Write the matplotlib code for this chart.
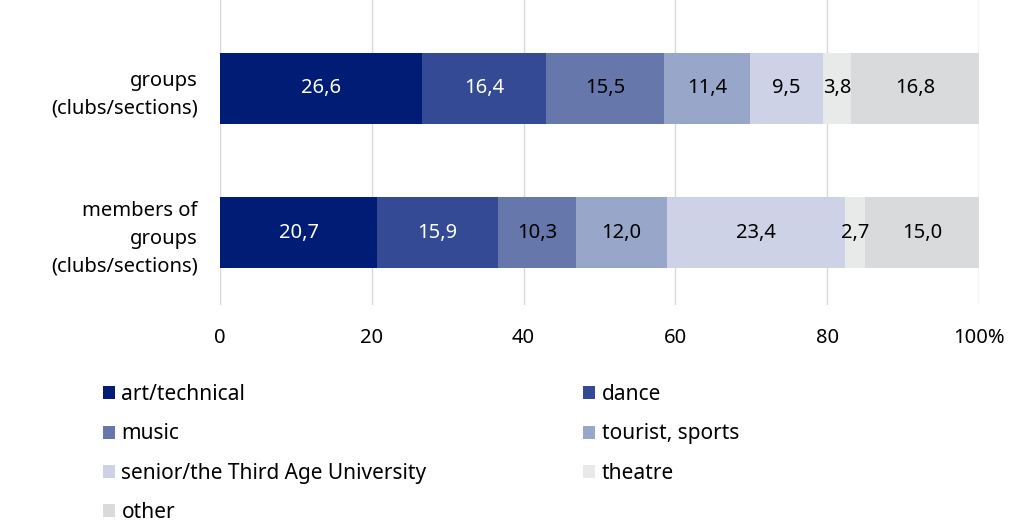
import numpy as np
import matplotlib.pyplot as plt

rows = ["groups\n(clubs/sections)", "members of\ngroups\n(clubs/sections)"]
categories = ["art/technical", "dance", "music", "tourist, sports",
              "senior/the Third Age University", "theatre", "other"]
groups_vals = [26.6, 16.4, 15.5, 11.4, 9.5, 3.8, 16.8]
members_vals = [20.7, 15.9, 10.3, 12.0, 23.4, 2.7, 15.0]
colors = ["#001c75", "#344a94", "#6577ab", "#98a6c9", "#cdd2e6", "#e8eaea", "#d9dadb"]
label_colors = ["white", "white", "black", "black", "black", "black", "black"]
xticks = [0, 20, 40, 60, 80, 100]
xticklabels = ["0", "20", "40", "60", "80", "100%"]

plt.rcParams['font.family'] = ['Noto Sans', 'DejaVu Sans']

data = np.array([groups_vals, members_vals])
fig = plt.figure(figsize=(10.24, 5.22), dpi=100)
ax = fig.add_axes([0.2148, 0.416, 0.7412, 0.584])

y = np.arange(len(rows))
left = np.zeros(len(rows))
handles = []
for k, cat in enumerate(categories):
    vals = data[:, k]
    h = ax.barh(y, vals, left=left, height=0.49, color=colors[k], label=cat, zorder=2)
    handles.append(h)
    for i in range(len(rows)):
        ax.text(left[i] + vals[i] / 2, y[i], f"{vals[i]:.1f}".replace(".", ","),
                ha="center", va="center", color=label_colors[k], fontsize=14.5)
    left += vals

ax.set_xlim(0, 100)
ax.set_ylim(1.5, -0.61)
ax.set_yticks(y)
ax.set_yticklabels(rows, fontsize=14.5, linespacing=1.5)
ax.set_xticks(xticks)
ax.set_xticklabels(xticklabels, fontsize=14.5)
ax.tick_params(axis="both", length=0)
ax.tick_params(axis="x", pad=17)
ax.tick_params(axis="y", pad=16)
ax.grid(axis="x", color="#d9d9d9", linewidth=1, zorder=0)
for s in ax.spines.values():
    s.set_visible(False)

# legend reads row by row in two columns
order = [0, 2, 4, 6, 1, 3, 5]
leg = fig.legend([handles[i] for i in order], [categories[i] for i in order],
                 loc="upper left", bbox_to_anchor=(0.082, 0.3), ncol=2,
                 frameon=False, fontsize=15, handlelength=0.6, handleheight=0.6,
                 handletextpad=0.3, columnspacing=7.5, labelspacing=0.88)

fig.savefig("out.png", dpi=100)
